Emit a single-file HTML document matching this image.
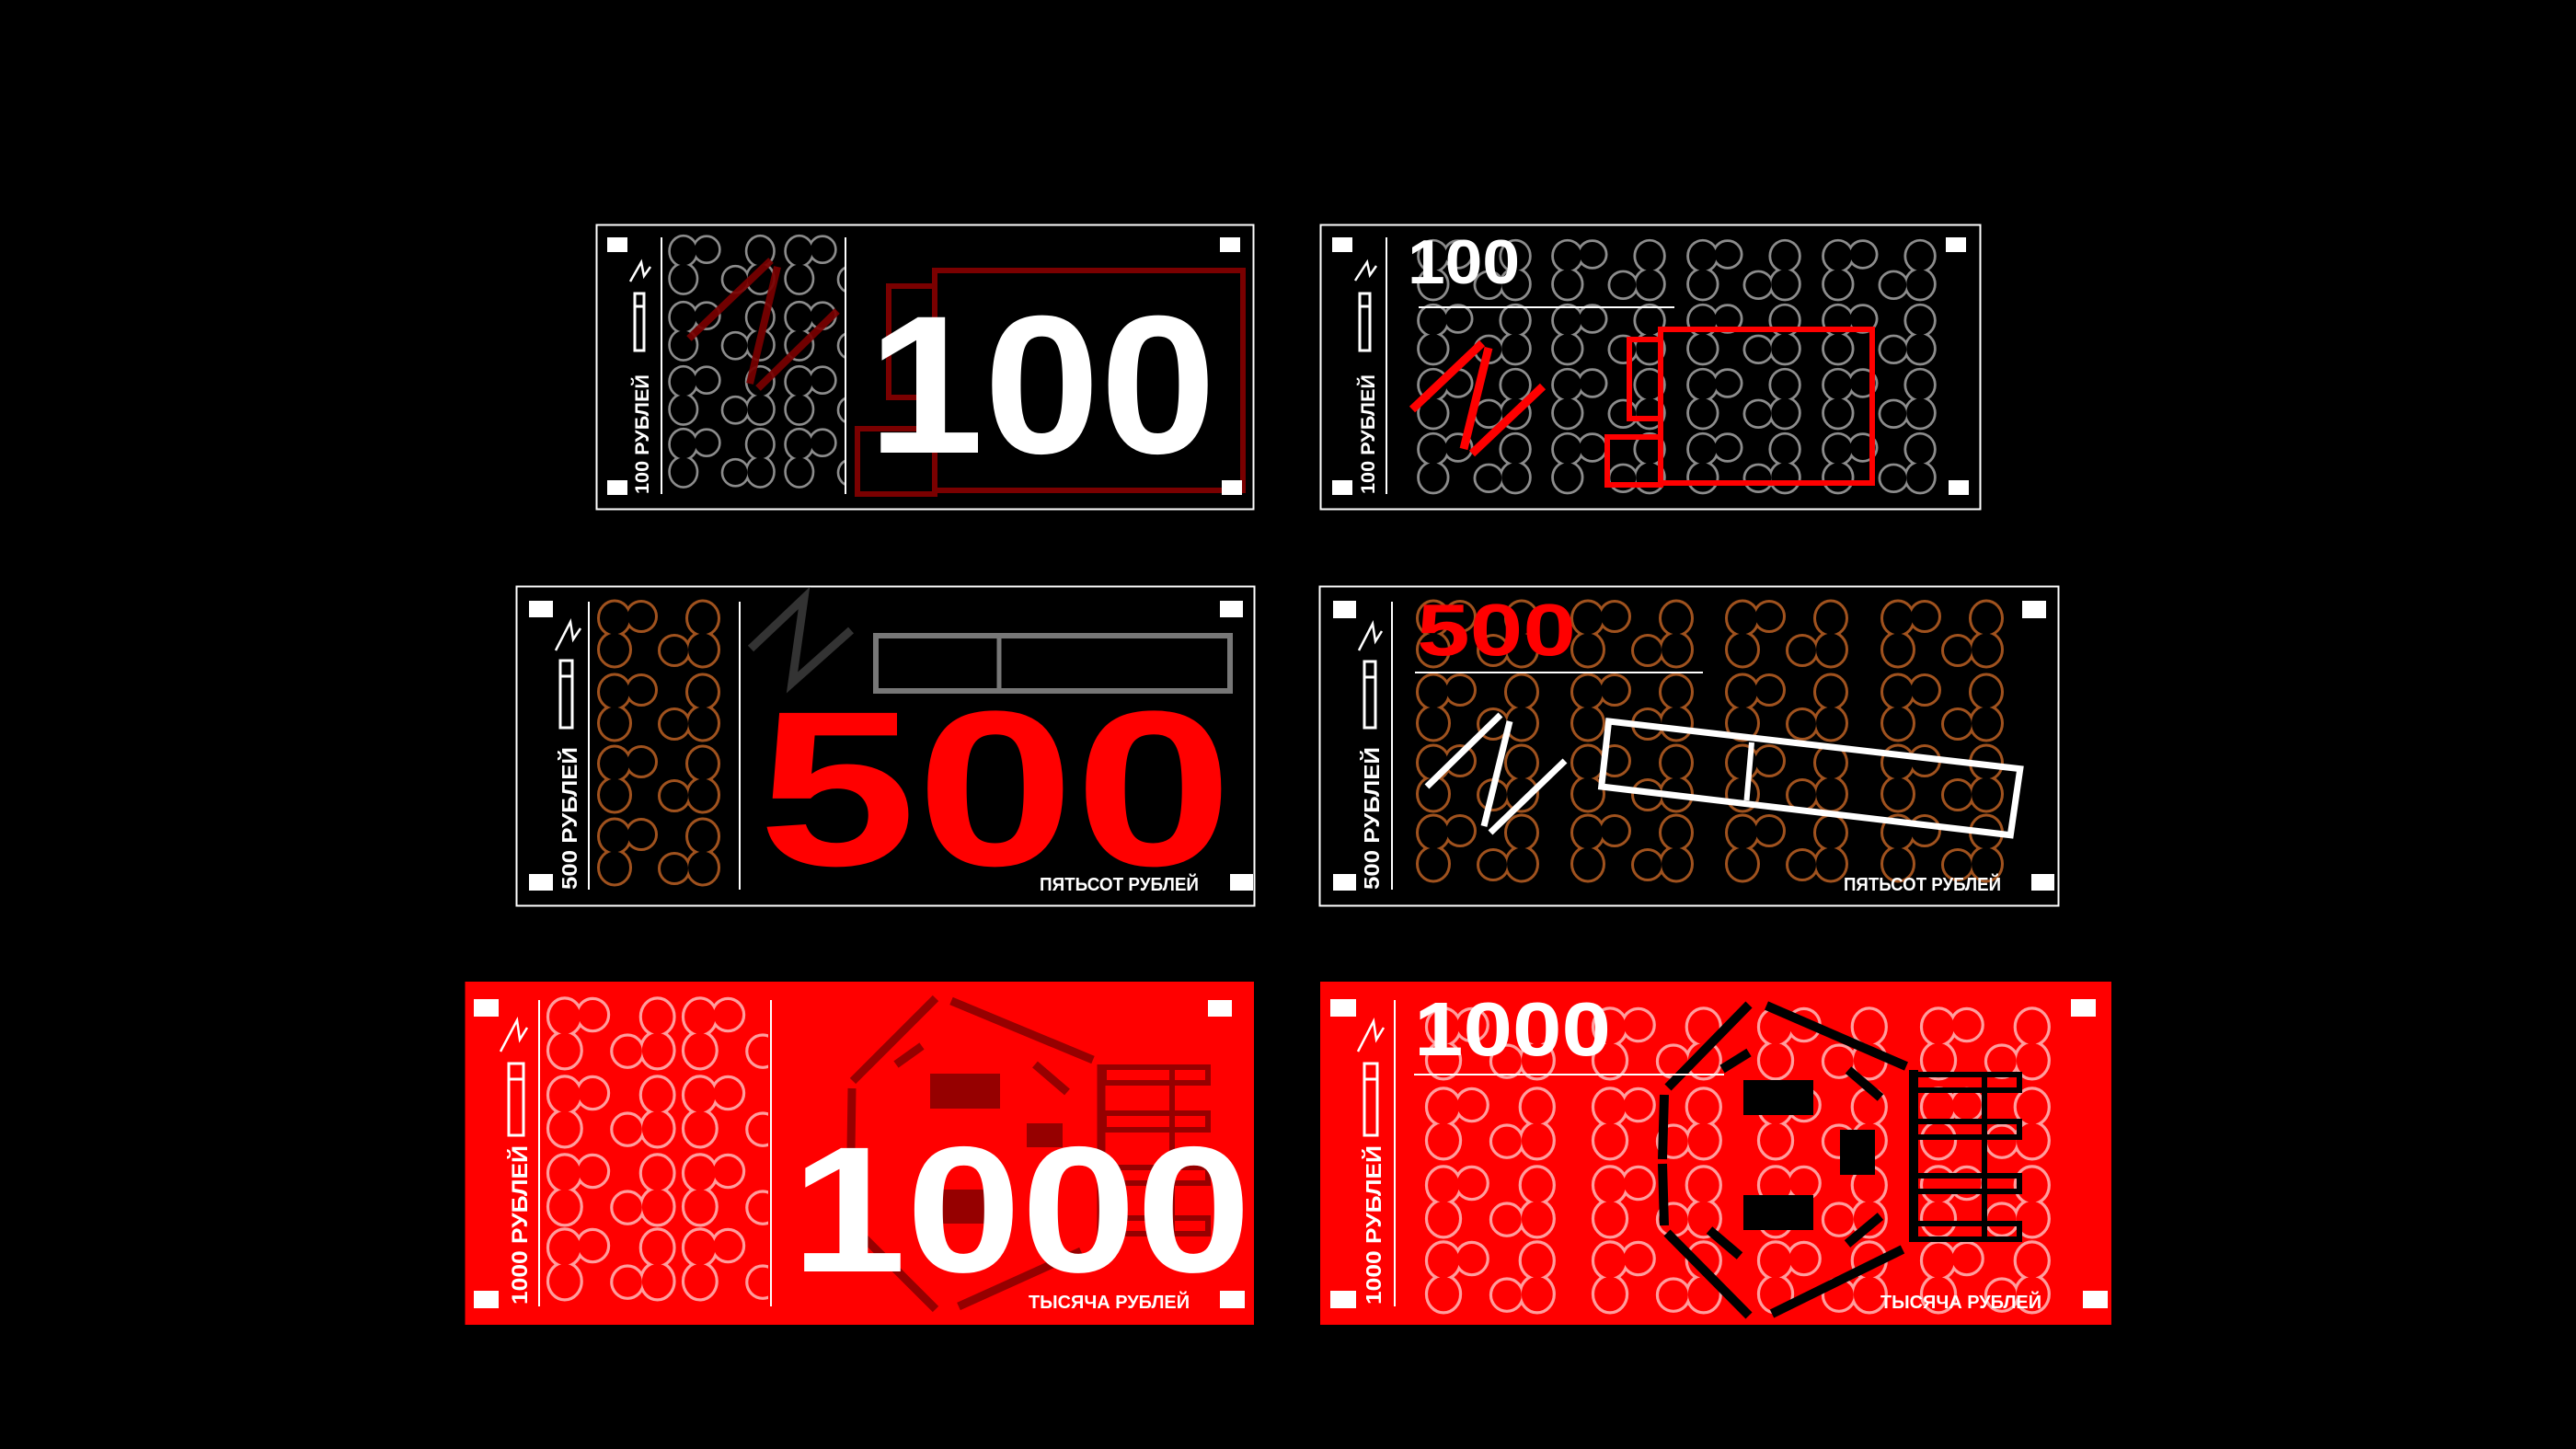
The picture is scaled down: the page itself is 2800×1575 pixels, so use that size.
<!DOCTYPE html>
<html><head><meta charset="utf-8"><style>html,body{margin:0;padding:0;background:#000;}svg{display:block}</style></head>
<body>
<svg width="2800" height="1575" viewBox="0 0 2800 1575" xmlns="http://www.w3.org/2000/svg" font-family="'Liberation Sans', 'DejaVu Sans', sans-serif" font-weight="bold">
<defs>
<g id="m">
<ellipse cx="17" cy="17" rx="16" ry="17.5"/><ellipse cx="46" cy="15" rx="15" ry="15"/><ellipse cx="17" cy="51" rx="16" ry="17.5"/>
<ellipse cx="113" cy="17" rx="16" ry="17.5"/><ellipse cx="82" cy="52" rx="15" ry="15"/><ellipse cx="113" cy="51" rx="16" ry="17.5"/>
</g>
<clipPath id="c1"><rect x="722" y="250" width="196" height="296"/></clipPath>
<clipPath id="c5"><rect x="589" y="1080" width="246" height="345"/></clipPath>
</defs>
<rect width="2800" height="1575" fill="#000"/>

<!-- NOTE 1 -->
<rect x="648.5" y="244.5" width="714" height="309" fill="none" stroke="#fff" stroke-width="2"/>
<g clip-path="url(#c1)">
<g stroke="#8c8c8c" stroke-width="6" fill="none">
<use href="#m" transform="translate(728,258) scale(0.87,0.88)"/><use href="#m" transform="translate(854,258) scale(0.87,0.88)"/>
<use href="#m" transform="translate(728,330) scale(0.87,0.88)"/><use href="#m" transform="translate(854,330) scale(0.87,0.88)"/>
<use href="#m" transform="translate(728,400) scale(0.87,0.88)"/><use href="#m" transform="translate(854,400) scale(0.87,0.88)"/>
<use href="#m" transform="translate(728,468) scale(0.87,0.88)"/><use href="#m" transform="translate(854,468) scale(0.87,0.88)"/>
</g>
<g fill="#000">
<use href="#m" transform="translate(728,258) scale(0.87,0.88)"/><use href="#m" transform="translate(854,258) scale(0.87,0.88)"/>
<use href="#m" transform="translate(728,330) scale(0.87,0.88)"/><use href="#m" transform="translate(854,330) scale(0.87,0.88)"/>
<use href="#m" transform="translate(728,400) scale(0.87,0.88)"/><use href="#m" transform="translate(854,400) scale(0.87,0.88)"/>
<use href="#m" transform="translate(728,468) scale(0.87,0.88)"/><use href="#m" transform="translate(854,468) scale(0.87,0.88)"/>
</g>
</g>
<g stroke="#7a0000" stroke-width="8" opacity="0.92">
<line x1="749" y1="368" x2="838" y2="283"/><line x1="845" y1="290" x2="815" y2="417"/><line x1="824" y1="422" x2="910" y2="338"/>
</g>
<g fill="none" stroke="#7a0000" stroke-width="6">
<rect x="1016" y="294" width="335" height="239"/><rect x="966" y="311" width="50" height="121"/><rect x="932" y="466" width="84" height="71"/>
</g>
<text x="943" y="492" font-size="214" fill="#fff" textLength="379" lengthAdjust="spacingAndGlyphs">100</text>
<g fill="#fff"><rect x="660" y="258" width="22" height="16"/><rect x="1326" y="258" width="22" height="16"/><rect x="660" y="522" width="22" height="16"/><rect x="1328" y="522" width="22" height="16"/></g>
<line x1="719" y1="258" x2="719" y2="537" stroke="#fff" stroke-width="2"/><line x1="919" y1="258" x2="919" y2="537" stroke="#fff" stroke-width="2"/>
<rect x="690" y="319" width="10" height="62" fill="none" stroke="#fff" stroke-width="3"/><line x1="690" y1="333" x2="700" y2="333" stroke="#fff" stroke-width="3"/>
<polyline points="685,306 697,285 700,300 707,290" fill="none" stroke="#fff" stroke-width="2.5"/>
<text transform="translate(705,537) rotate(-90)" font-size="21" fill="#fff" textLength="130" lengthAdjust="spacingAndGlyphs">100 РУБЛЕЙ</text>

<!-- NOTE 2 -->
<rect x="1435.5" y="244.5" width="717" height="309" fill="none" stroke="#fff" stroke-width="2"/>
<g stroke="#8c8c8c" stroke-width="6" fill="none">
<use href="#m" transform="translate(1542,263) scale(0.93,0.9)"/><use href="#m" transform="translate(1688,263) scale(0.93,0.9)"/><use href="#m" transform="translate(1835,263) scale(0.93,0.9)"/><use href="#m" transform="translate(1982,263) scale(0.93,0.9)"/>
<use href="#m" transform="translate(1542,333) scale(0.93,0.9)"/><use href="#m" transform="translate(1688,333) scale(0.93,0.9)"/><use href="#m" transform="translate(1835,333) scale(0.93,0.9)"/><use href="#m" transform="translate(1982,333) scale(0.93,0.9)"/>
<use href="#m" transform="translate(1542,403) scale(0.93,0.9)"/><use href="#m" transform="translate(1688,403) scale(0.93,0.9)"/><use href="#m" transform="translate(1835,403) scale(0.93,0.9)"/><use href="#m" transform="translate(1982,403) scale(0.93,0.9)"/>
<use href="#m" transform="translate(1542,473) scale(0.93,0.9)"/><use href="#m" transform="translate(1688,473) scale(0.93,0.9)"/><use href="#m" transform="translate(1835,473) scale(0.93,0.9)"/><use href="#m" transform="translate(1982,473) scale(0.93,0.9)"/>
</g>
<g fill="#000">
<use href="#m" transform="translate(1542,263) scale(0.93,0.9)"/><use href="#m" transform="translate(1688,263) scale(0.93,0.9)"/><use href="#m" transform="translate(1835,263) scale(0.93,0.9)"/><use href="#m" transform="translate(1982,263) scale(0.93,0.9)"/>
<use href="#m" transform="translate(1542,333) scale(0.93,0.9)"/><use href="#m" transform="translate(1688,333) scale(0.93,0.9)"/><use href="#m" transform="translate(1835,333) scale(0.93,0.9)"/><use href="#m" transform="translate(1982,333) scale(0.93,0.9)"/>
<use href="#m" transform="translate(1542,403) scale(0.93,0.9)"/><use href="#m" transform="translate(1688,403) scale(0.93,0.9)"/><use href="#m" transform="translate(1835,403) scale(0.93,0.9)"/><use href="#m" transform="translate(1982,403) scale(0.93,0.9)"/>
<use href="#m" transform="translate(1542,473) scale(0.93,0.9)"/><use href="#m" transform="translate(1688,473) scale(0.93,0.9)"/><use href="#m" transform="translate(1835,473) scale(0.93,0.9)"/><use href="#m" transform="translate(1982,473) scale(0.93,0.9)"/>
</g>
<g stroke="#ff0000" stroke-width="9">
<line x1="1535" y1="445" x2="1611" y2="373"/><line x1="1618" y1="378" x2="1591" y2="488"/><line x1="1600" y1="493" x2="1677" y2="420"/>
</g>
<g fill="none" stroke="#ff0000" stroke-width="6">
<rect x="1805" y="358" width="230" height="167"/><rect x="1771" y="369" width="34" height="86"/><rect x="1747" y="475" width="58" height="52"/>
</g>
<text x="1530" y="308" font-size="68" fill="#fff" textLength="122" lengthAdjust="spacingAndGlyphs">100</text>
<line x1="1542" y1="334" x2="1820" y2="334" stroke="#fff" stroke-width="2"/>
<g fill="#fff"><rect x="1448" y="258" width="22" height="16"/><rect x="2115" y="258" width="22" height="16"/><rect x="1448" y="522" width="22" height="16"/><rect x="2118" y="522" width="22" height="16"/></g>
<line x1="1507" y1="258" x2="1507" y2="537" stroke="#fff" stroke-width="2"/>
<rect x="1478" y="319" width="11" height="62" fill="none" stroke="#fff" stroke-width="3"/><line x1="1478" y1="333" x2="1489" y2="333" stroke="#fff" stroke-width="3"/>
<polyline points="1473,305 1486,285 1489,299 1496,289" fill="none" stroke="#fff" stroke-width="2.5"/>
<text transform="translate(1494,537) rotate(-90)" font-size="21" fill="#fff" textLength="130" lengthAdjust="spacingAndGlyphs">100 РУБЛЕЙ</text>

<!-- NOTE 3 -->
<rect x="561.5" y="637.5" width="802" height="347" fill="none" stroke="#fff" stroke-width="2"/>
<g stroke="#a0521e" stroke-width="6" fill="none">
<use href="#m" transform="translate(651,655)"/><use href="#m" transform="translate(651,735)"/><use href="#m" transform="translate(651,813)"/><use href="#m" transform="translate(651,892)"/>
</g>
<g fill="#000">
<use href="#m" transform="translate(651,655)"/><use href="#m" transform="translate(651,735)"/><use href="#m" transform="translate(651,813)"/><use href="#m" transform="translate(651,892)"/>
</g>
<polyline points="816,705 874,650 861,742 925,685" fill="none" stroke="#333" stroke-width="9"/>
<rect x="952" y="691" width="385" height="60" fill="none" stroke="#777" stroke-width="6"/>
<line x1="1086" y1="691" x2="1086" y2="751" stroke="#777" stroke-width="5"/>
<text x="824" y="940" font-size="240" fill="#ff0000" textLength="516" lengthAdjust="spacingAndGlyphs">500</text>
<text x="1130" y="968" font-size="20" fill="#fff" textLength="173" lengthAdjust="spacingAndGlyphs">ПЯТЬСОТ РУБЛЕЙ</text>
<g fill="#fff"><rect x="575" y="653" width="26" height="18"/><rect x="1326" y="653" width="25" height="18"/><rect x="575" y="950" width="26" height="18"/><rect x="1337" y="950" width="25" height="18"/></g>
<line x1="640" y1="654" x2="640" y2="967" stroke="#fff" stroke-width="2"/><line x1="804" y1="654" x2="804" y2="967" stroke="#fff" stroke-width="2"/>
<rect x="609" y="718" width="13" height="73" fill="none" stroke="#fff" stroke-width="3"/><line x1="609" y1="735" x2="622" y2="735" stroke="#fff" stroke-width="3"/>
<polyline points="604,707 620,676 623,695 631,683" fill="none" stroke="#fff" stroke-width="2.5"/>
<text transform="translate(627,967) rotate(-90)" font-size="23" fill="#fff" textLength="155" lengthAdjust="spacingAndGlyphs">500 РУБЛЕЙ</text>

<!-- NOTE 4 -->
<rect x="1434.5" y="637.5" width="803" height="347" fill="none" stroke="#fff" stroke-width="2"/>
<g stroke="#a0521e" stroke-width="6" fill="none">
<use href="#m" transform="translate(1541,655)"/><use href="#m" transform="translate(1709,655)"/><use href="#m" transform="translate(1877,655)"/><use href="#m" transform="translate(2046,655)"/>
<use href="#m" transform="translate(1541,735)"/><use href="#m" transform="translate(1709,735)"/><use href="#m" transform="translate(1877,735)"/><use href="#m" transform="translate(2046,735)"/>
<use href="#m" transform="translate(1541,812)"/><use href="#m" transform="translate(1709,812)"/><use href="#m" transform="translate(1877,812)"/><use href="#m" transform="translate(2046,812)"/>
<use href="#m" transform="translate(1541,888)"/><use href="#m" transform="translate(1709,888)"/><use href="#m" transform="translate(1877,888)"/><use href="#m" transform="translate(2046,888)"/>
</g>
<g fill="#000">
<use href="#m" transform="translate(1541,655)"/><use href="#m" transform="translate(1709,655)"/><use href="#m" transform="translate(1877,655)"/><use href="#m" transform="translate(2046,655)"/>
<use href="#m" transform="translate(1541,735)"/><use href="#m" transform="translate(1709,735)"/><use href="#m" transform="translate(1877,735)"/><use href="#m" transform="translate(2046,735)"/>
<use href="#m" transform="translate(1541,812)"/><use href="#m" transform="translate(1709,812)"/><use href="#m" transform="translate(1877,812)"/><use href="#m" transform="translate(2046,812)"/>
<use href="#m" transform="translate(1541,888)"/><use href="#m" transform="translate(1709,888)"/><use href="#m" transform="translate(1877,888)"/><use href="#m" transform="translate(2046,888)"/>
</g>
<g stroke="#fff" stroke-width="7">
<line x1="1551" y1="855" x2="1631" y2="777"/><line x1="1641" y1="784" x2="1613" y2="898"/><line x1="1620" y1="905" x2="1701" y2="827"/>
</g>
<polygon points="1748.6,784 2195.8,835.7 2185.3,907.7 1740.7,855" fill="none" stroke="#fff" stroke-width="7"/>
<line x1="1904" y1="807" x2="1898.5" y2="870" stroke="#fff" stroke-width="6"/>
<text x="1540" y="712" font-size="80" fill="#ff0000" textLength="173" lengthAdjust="spacingAndGlyphs">500</text>
<line x1="1538" y1="731" x2="1851" y2="731" stroke="#fff" stroke-width="2"/>
<text x="2004" y="968" font-size="20" fill="#fff" textLength="171" lengthAdjust="spacingAndGlyphs">ПЯТЬСОТ РУБЛЕЙ</text>
<g fill="#fff"><rect x="1449" y="653" width="25" height="19"/><rect x="2198" y="653" width="26" height="19"/><rect x="1449" y="950" width="25" height="18"/><rect x="2208" y="950" width="25" height="18"/></g>
<line x1="1513" y1="654" x2="1513" y2="967" stroke="#fff" stroke-width="2"/>
<rect x="1483" y="719" width="12" height="72" fill="none" stroke="#fff" stroke-width="3"/><line x1="1483" y1="736" x2="1495" y2="736" stroke="#fff" stroke-width="3"/>
<polyline points="1477,707 1492,678 1495,697 1502,686" fill="none" stroke="#fff" stroke-width="2.5"/>
<text transform="translate(1499,967) rotate(-90)" font-size="23" fill="#fff" textLength="155" lengthAdjust="spacingAndGlyphs">500 РУБЛЕЙ</text>

<!-- NOTE 5 -->
<rect x="505.5" y="1067" width="857.5" height="373" fill="#ff0000"/>
<g clip-path="url(#c5)">
<g stroke="#ff9e9e" stroke-width="6" fill="none">
<use href="#m" transform="translate(596,1087) scale(1.05,1.07)"/><use href="#m" transform="translate(743,1087) scale(1.05,1.07)"/>
<use href="#m" transform="translate(596,1172) scale(1.05,1.07)"/><use href="#m" transform="translate(743,1172) scale(1.05,1.07)"/>
<use href="#m" transform="translate(596,1257) scale(1.05,1.07)"/><use href="#m" transform="translate(743,1257) scale(1.05,1.07)"/>
<use href="#m" transform="translate(596,1338) scale(1.05,1.07)"/><use href="#m" transform="translate(743,1338) scale(1.05,1.07)"/>
</g>
<g fill="#ff0000">
<use href="#m" transform="translate(596,1087) scale(1.05,1.07)"/><use href="#m" transform="translate(743,1087) scale(1.05,1.07)"/>
<use href="#m" transform="translate(596,1172) scale(1.05,1.07)"/><use href="#m" transform="translate(743,1172) scale(1.05,1.07)"/>
<use href="#m" transform="translate(596,1257) scale(1.05,1.07)"/><use href="#m" transform="translate(743,1257) scale(1.05,1.07)"/>
<use href="#m" transform="translate(596,1338) scale(1.05,1.07)"/><use href="#m" transform="translate(743,1338) scale(1.05,1.07)"/>
</g>
</g>
<g stroke="#960000" stroke-width="9" fill="none">
<line x1="1017" y1="1085" x2="927" y2="1175"/><line x1="1034" y1="1088" x2="1188" y2="1152"/>
<line x1="1002" y1="1137" x2="974" y2="1157"/><line x1="1125" y1="1157" x2="1160" y2="1187"/>
<line x1="926" y1="1183" x2="925" y2="1250"/><line x1="925" y1="1258" x2="924" y2="1325"/>
<line x1="927" y1="1333" x2="1017" y2="1423"/><line x1="1042" y1="1420" x2="1175" y2="1360"/>
<line x1="1197" y1="1157" x2="1197" y2="1343"/>
</g>
<g fill="#960000"><rect x="1011" y="1167" width="76" height="38"/><rect x="1116" y="1221" width="39" height="26"/><rect x="1011" y="1293" width="76" height="37"/></g>
<g fill="none" stroke="#960000" stroke-width="6">
<rect x="1200" y="1160" width="113" height="17"/><rect x="1200" y="1210" width="113" height="18"/><rect x="1200" y="1269" width="113" height="17"/><rect x="1200" y="1324" width="113" height="17"/>
<line x1="1274" y1="1160" x2="1274" y2="1341"/>
</g>
<text x="860" y="1382" font-size="195" fill="#fff" textLength="500" lengthAdjust="spacingAndGlyphs">1000</text>
<text x="1118" y="1422" font-size="20" fill="#fff" textLength="175" lengthAdjust="spacingAndGlyphs">ТЫСЯЧА РУБЛЕЙ</text>
<g fill="#fff"><rect x="515" y="1086" width="27" height="19"/><rect x="1313" y="1087" width="26" height="18"/><rect x="515" y="1403" width="27" height="19"/><rect x="1326" y="1403" width="27" height="19"/></g>
<line x1="586" y1="1087" x2="586" y2="1420" stroke="#fff" stroke-width="2"/><line x1="838" y1="1087" x2="838" y2="1420" stroke="#fff" stroke-width="2"/>
<rect x="553" y="1156" width="16" height="78" fill="none" stroke="#fff" stroke-width="3"/><line x1="553" y1="1173" x2="569" y2="1173" stroke="#fff" stroke-width="3"/>
<polyline points="544,1143 562,1109 565,1130 573,1117" fill="none" stroke="#fff" stroke-width="2.5"/>
<text transform="translate(573,1418) rotate(-90)" font-size="24" fill="#fff" textLength="173" lengthAdjust="spacingAndGlyphs">1000 РУБЛЕЙ</text>

<!-- NOTE 6 -->
<rect x="1435" y="1067" width="860" height="373" fill="#ff0000"/>
<g stroke="#ff9e9e" stroke-width="6" fill="none">
<use href="#m" transform="translate(1551,1098) scale(1.06,1.07)"/><use href="#m" transform="translate(1732,1098) scale(1.06,1.07)"/><use href="#m" transform="translate(1912,1098) scale(1.06,1.07)"/><use href="#m" transform="translate(2089,1098) scale(1.06,1.07)"/>
<use href="#m" transform="translate(1551,1185) scale(1.06,1.07)"/><use href="#m" transform="translate(1732,1185) scale(1.06,1.07)"/><use href="#m" transform="translate(1912,1185) scale(1.06,1.07)"/><use href="#m" transform="translate(2089,1185) scale(1.06,1.07)"/>
<use href="#m" transform="translate(1551,1270) scale(1.06,1.07)"/><use href="#m" transform="translate(1732,1270) scale(1.06,1.07)"/><use href="#m" transform="translate(1912,1270) scale(1.06,1.07)"/><use href="#m" transform="translate(2089,1270) scale(1.06,1.07)"/>
<use href="#m" transform="translate(1551,1352) scale(1.06,1.07)"/><use href="#m" transform="translate(1732,1352) scale(1.06,1.07)"/><use href="#m" transform="translate(1912,1352) scale(1.06,1.07)"/><use href="#m" transform="translate(2089,1352) scale(1.06,1.07)"/>
</g>
<g fill="#ff0000">
<use href="#m" transform="translate(1551,1098) scale(1.06,1.07)"/><use href="#m" transform="translate(1732,1098) scale(1.06,1.07)"/><use href="#m" transform="translate(1912,1098) scale(1.06,1.07)"/><use href="#m" transform="translate(2089,1098) scale(1.06,1.07)"/>
<use href="#m" transform="translate(1551,1185) scale(1.06,1.07)"/><use href="#m" transform="translate(1732,1185) scale(1.06,1.07)"/><use href="#m" transform="translate(1912,1185) scale(1.06,1.07)"/><use href="#m" transform="translate(2089,1185) scale(1.06,1.07)"/>
<use href="#m" transform="translate(1551,1270) scale(1.06,1.07)"/><use href="#m" transform="translate(1732,1270) scale(1.06,1.07)"/><use href="#m" transform="translate(1912,1270) scale(1.06,1.07)"/><use href="#m" transform="translate(2089,1270) scale(1.06,1.07)"/>
<use href="#m" transform="translate(1551,1352) scale(1.06,1.07)"/><use href="#m" transform="translate(1732,1352) scale(1.06,1.07)"/><use href="#m" transform="translate(1912,1352) scale(1.06,1.07)"/><use href="#m" transform="translate(2089,1352) scale(1.06,1.07)"/>
</g>
<g stroke="#000" stroke-width="10" fill="none">
<line x1="1901" y1="1092" x2="1813" y2="1182"/><line x1="1920" y1="1093" x2="2072" y2="1159"/>
<line x1="1901" y1="1144" x2="1872" y2="1162"/><line x1="2009" y1="1163" x2="2044" y2="1193"/>
<line x1="1809" y1="1190" x2="1807" y2="1260"/><line x1="1807" y1="1265" x2="1809" y2="1332"/>
<line x1="1812" y1="1340" x2="1901" y2="1430"/><line x1="1858" y1="1337" x2="1891" y2="1365"/>
<line x1="2008" y1="1352" x2="2044" y2="1322"/><line x1="1926" y1="1428" x2="2068" y2="1358"/>
<line x1="2080" y1="1163" x2="2080" y2="1350"/>
</g>
<g fill="#000"><rect x="1895" y="1174" width="76" height="38"/><rect x="2000" y="1228" width="38" height="49"/><rect x="1895" y="1299" width="76" height="38"/></g>
<g fill="none" stroke="#000" stroke-width="6">
<rect x="2082" y="1168" width="113" height="17"/><rect x="2082" y="1219" width="113" height="17"/><rect x="2082" y="1278" width="113" height="17"/><rect x="2082" y="1330" width="113" height="17"/>
<line x1="2157" y1="1168" x2="2157" y2="1347"/>
</g>
<text x="1537" y="1147" font-size="83" fill="#fff" textLength="214" lengthAdjust="spacingAndGlyphs">1000</text>
<line x1="1537" y1="1168" x2="1874" y2="1168" stroke="#fff" stroke-width="2"/>
<text x="2044" y="1422" font-size="20" fill="#fff" textLength="175" lengthAdjust="spacingAndGlyphs">ТЫСЯЧА РУБЛЕЙ</text>
<g fill="#fff"><rect x="1446" y="1086" width="28" height="19"/><rect x="2251" y="1086" width="27" height="19"/><rect x="1446" y="1403" width="28" height="19"/><rect x="2264" y="1403" width="27" height="19"/></g>
<line x1="1516" y1="1087" x2="1516" y2="1420" stroke="#fff" stroke-width="2"/>
<rect x="1483" y="1156" width="14" height="78" fill="none" stroke="#fff" stroke-width="3"/><line x1="1483" y1="1173" x2="1497" y2="1173" stroke="#fff" stroke-width="3"/>
<polyline points="1476,1143 1493,1110 1496,1130 1504,1117" fill="none" stroke="#fff" stroke-width="2.5"/>
<text transform="translate(1501,1418) rotate(-90)" font-size="23" fill="#fff" textLength="173" lengthAdjust="spacingAndGlyphs">1000 РУБЛЕЙ</text>
</svg>
</body></html>
